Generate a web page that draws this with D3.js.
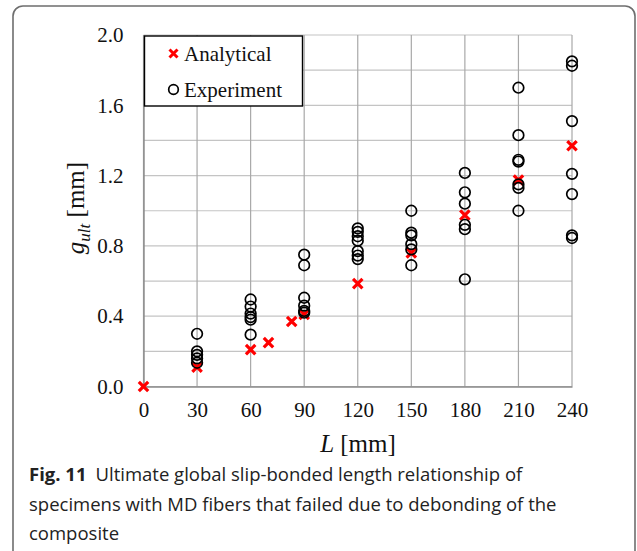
<!DOCTYPE html>
<html>
<head>
<meta charset="utf-8">
<script src="https://cdn.jsdelivr.net/npm/d3@7"></script>
<style>
  html, body { margin: 0; padding: 0; background: #fff; }
  svg { display: block; }
</style>
</head>
<body>
<svg id="chart" width="637" height="551"></svg>
<script>
// Bonded length L [mm] tick values
const lengthTicks = [0, 30, 60, 90, 120, 150, 180, 210, 240];
const slipTicks = [0.0, 0.4, 0.8, 1.2, 1.6, 2.0];

// Analytical prediction (L, g_ult)
const analyticalL = [0, 30, 60, 70, 83, 90, 120, 150, 180, 210, 240];
const analyticalG = [0, 0.11, 0.21, 0.25, 0.37, 0.41, 0.585, 0.76, 0.975, 1.175, 1.37];

// Experimental results, grouped by bonded length
const expL30  = [0.30, 0.20, 0.18, 0.16, 0.135];
const expL60  = [0.495, 0.455, 0.415, 0.395, 0.38, 0.295];
const expL90  = [0.75, 0.69, 0.505, 0.46, 0.43, 0.42];
const expL120 = [0.90, 0.88, 0.855, 0.83, 0.77, 0.745, 0.725];
const expL150 = [1.00, 0.875, 0.86, 0.81, 0.78, 0.69];
const expL180 = [1.215, 1.105, 1.04, 0.92, 0.895, 0.61];
const expL210 = [1.70, 1.43, 1.29, 1.28, 1.15, 1.13, 1.00];
const expL240 = [1.85, 1.825, 1.51, 1.21, 1.095, 0.86, 0.845];

const experimentGroups = [
  [30, expL30], [60, expL60], [90, expL90], [120, expL120],
  [150, expL150], [180, expL180], [210, expL210], [240, expL240]
];

const svg = d3.select("#chart");

// Figure frame with rounded corners (bottom runs past the page edge)
svg.append("rect")
  .attr("x", 13).attr("y", 6)
  .attr("width", 622).attr("height", 580)
  .attr("rx", 10).attr("ry", 10)
  .attr("fill", "none")
  .attr("stroke", "#6e6e6e")
  .attr("stroke-width", 1.6);

const plot = { left: 143.5, right: 572, top: 35, bottom: 386.5 };

const x = d3.scaleLinear().domain([0, 240]).range([plot.left, plot.right]);
const y = d3.scaleLinear().domain([0, 2.0]).range([plot.bottom, plot.top]);

// Gridlines
const gridY = d3.range(0, 2.0001, 0.2);
svg.append("g")
  .selectAll("line")
  .data(gridY)
  .join("line")
  .attr("x1", plot.left).attr("x2", plot.right)
  .attr("y1", d => y(d)).attr("y2", d => y(d))
  .attr("stroke", "#c4c4c4").attr("stroke-width", 1.2);

svg.append("g")
  .selectAll("line")
  .data(lengthTicks)
  .join("line")
  .attr("x1", d => x(d)).attr("x2", d => x(d))
  .attr("y1", plot.top).attr("y2", plot.bottom)
  .attr("stroke", "#a8a8a8").attr("stroke-width", 1.2);

// Axes
const xAxis = d3.axisBottom(x).tickValues(lengthTicks).tickSize(0).tickPadding(16)
  .tickFormat(d3.format("d"));
const yAxis = d3.axisLeft(y).tickValues(slipTicks).tickSize(0).tickPadding(20)
  .tickFormat(d3.format(".1f"));

const gx = svg.append("g").attr("transform", `translate(0,${plot.bottom})`).call(xAxis);
const gy = svg.append("g").attr("transform", `translate(${plot.left},0)`).call(yAxis);
[gx, gy].forEach(g => {
  g.select(".domain").attr("stroke", "#8a8a8a").attr("stroke-width", 1.4);
  g.selectAll("text")
    .attr("font-family", "'Liberation Serif', 'Times New Roman', serif")
    .attr("font-size", 21)
    .attr("fill", "#111");
});
gx.selectAll("text").attr("dy", "0.71em");

// Axis titles
svg.append("text")
  .attr("x", 358).attr("y", 452)
  .attr("text-anchor", "middle")
  .attr("font-family", "'Liberation Serif', 'Times New Roman', serif")
  .attr("font-size", 25)
  .attr("fill", "#111")
  .call(t => {
    t.append("tspan").attr("font-style", "italic").text("L");
    t.append("tspan").text(" [mm]");
  });

svg.append("text")
  .attr("transform", "translate(84,208) rotate(-90)")
  .attr("text-anchor", "middle")
  .attr("font-family", "'Liberation Serif', 'Times New Roman', serif")
  .attr("font-size", 25)
  .attr("fill", "#111")
  .call(t => {
    t.append("tspan").attr("font-style", "italic").text("g");
    t.append("tspan").attr("font-style", "italic").attr("font-size", 17).attr("dy", 6).text("ult");
    t.append("tspan").attr("dy", -6).text(" [mm]");
  });

// Red cross marker
const crossPath = s => `M${-s},${-s}L${s},${s}M${-s},${s}L${s},${-s}`;

svg.append("g")
  .selectAll("path")
  .data(analyticalL.map((L, i) => [L, analyticalG[i]]))
  .join("path")
  .attr("transform", d => `translate(${x(d[0])},${y(d[1])})`)
  .attr("d", crossPath(4.7))
  .attr("stroke", "#ff0000")
  .attr("stroke-width", 3.2)
  .attr("fill", "none");

// Experimental circles
const expPoints = experimentGroups.flatMap(([L, vals]) => vals.map(v => [L, v]));
svg.append("g")
  .selectAll("circle")
  .data(expPoints)
  .join("circle")
  .attr("cx", d => x(d[0]))
  .attr("cy", d => y(d[1]))
  .attr("r", 5.3)
  .attr("fill", "none")
  .attr("stroke", "#000")
  .attr("stroke-width", 1.7);

// Legend
const lg = svg.append("g");
lg.append("rect")
  .attr("x", 144.5).attr("y", 36)
  .attr("width", 158).attr("height", 70)
  .attr("fill", "#fff")
  .attr("stroke", "#000").attr("stroke-width", 1.4);
lg.append("path")
  .attr("transform", "translate(173.5,53.5)")
  .attr("d", crossPath(4))
  .attr("stroke", "#ff0000").attr("stroke-width", 3)
  .attr("fill", "none");
lg.append("circle")
  .attr("cx", 173.5).attr("cy", 89.5).attr("r", 4.8)
  .attr("fill", "none").attr("stroke", "#000").attr("stroke-width", 1.7);
lg.selectAll("text.leg")
  .data([["Analytical", 60.5], ["Experiment", 96.5]])
  .join("text")
  .attr("class", "leg")
  .attr("x", 184).attr("y", d => d[1])
  .attr("font-family", "'Liberation Serif', 'Times New Roman', serif")
  .attr("font-size", 21)
  .attr("fill", "#111")
  .text(d => d[0]);

// Caption
const cap = svg.append("g")
  .attr("font-family", "'Open Sans', 'Noto Sans', sans-serif")
  .attr("font-size", 18.5)
  .attr("fill", "#222");
const line1 = cap.append("text").attr("x", 29).attr("y", 481);
line1.append("tspan").attr("font-weight", 700).text("Fig. 11");
line1.append("tspan").attr("dx", 9).text("Ultimate global slip-bonded length relationship of");
cap.append("text").attr("x", 29).attr("y", 511)
  .text("specimens with MD fibers that failed due to debonding of the");
cap.append("text").attr("x", 29).attr("y", 540).text("composite");
</script>
</body>
</html>
